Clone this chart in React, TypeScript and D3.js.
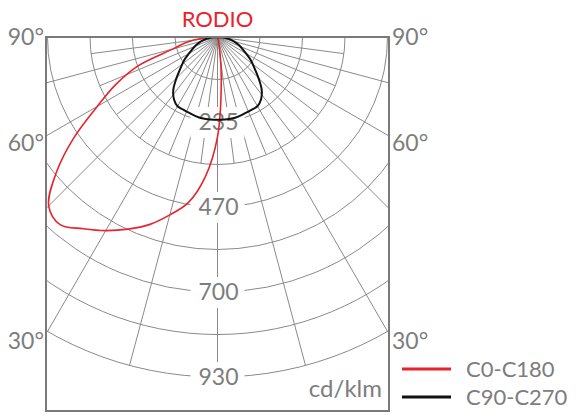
import { useRef, useEffect } from 'react';
import * as d3 from 'd3';

const WIDTH = 577;
const HEIGHT = 420;

// Box and pole of the polar diagram.
const BOX = { left: 46, right: 389, top: 37, bottom: 411 };
const CENTER = { x: 217.5, y: 37 };
const R_MAX = 340;

const GRID_COLOR = '#8a8a8a';
const TEXT_COLOR = '#7d7d7d';
const RED = '#e8232b';
const BLACK = '#111111';
const FONT = 'Lato, "Open Sans", sans-serif';

const TITLE = 'RODIO';
const UNIT = 'cd/klm';

// Intensity rings (cd/klm) and the labelled ones.
const RINGS = [117.5, 235, 352.5, 470, 587.5, 705, 822.5, 940];
const RING_LABELS = ['235', '470', '700', '930'];
const RING_LABEL_VALUES = [235, 470, 705, 940];

// Angle labels on both box sides.
const ANGLE_LABELS = [90, 60, 30];

// Gamma angles, -90 (left) .. 90 (right), 5 degree steps.
const GAMMA = d3.range(-90, 91, 5);

// C0-C180 plane
const C0_C180 = [
  0, 41, 88, 127, 235, 310, 384, 484, 581, 660, 677, 647, 618, 586, 552, 509, 465, 388,
  276, 120, 35, 8, 0, 0, 0, 0, 0, 0, 0, 0, 0, 0, 0, 0, 0, 0, 0,
];

// C90-C270 plane
const C90_C270 = [
  0, 17, 33, 47, 61, 75, 91, 113, 133, 160, 190, 210, 221, 222, 224, 227, 229, 229,
  229, 229, 229, 227, 224, 222, 221, 210, 190, 160, 133, 113, 91, 75, 61, 47, 33, 17, 0,
];

const SERIES = [
  { name: 'C0-C180', values: C0_C180, color: RED, width: 1.6 },
  { name: 'C90-C270', values: C90_C270, color: BLACK, width: 2 },
];

export default function App() {
  const svgRef = useRef<SVGSVGElement>(null);

  useEffect(() => {
    if (!svgRef.current) return;
    const svg = d3.select(svgRef.current);
    svg.selectAll('*').remove();

    const r = d3.scaleLinear().domain([0, 940]).range([0, R_MAX]);
    const toRad = (g: number) => (g * Math.PI) / 180;

    svg.append('defs')
      .append('clipPath')
      .attr('id', 'box-clip')
      .append('rect')
      .attr('x', BOX.left)
      .attr('y', BOX.top)
      .attr('width', BOX.right - BOX.left)
      .attr('height', BOX.bottom - BOX.top);

    const grid = svg.append('g').attr('clip-path', 'url(#box-clip)');
    const g = grid.append('g').attr('transform', `translate(${CENTER.x},${CENTER.y})`);

    // ── Rings ────────────────────────────────────────────────────────────
    g.selectAll('circle.ring')
      .data(RINGS)
      .join('circle')
      .attr('class', 'ring')
      .attr('r', (d) => r(d))
      .attr('fill', 'none')
      .attr('stroke', GRID_COLOR)
      .attr('stroke-width', 1);

    // ── Radial lines every 7.5 degrees; odd ones stop at the third ring ──
    const spokes = d3.range(-90, 90.1, 7.5);
    const spokeLen = (d: number) => (d % 15 === 0 ? R_MAX : r(352.5));
    g.selectAll('line.spoke')
      .data(spokes)
      .join('line')
      .attr('class', 'spoke')
      .attr('x1', 0)
      .attr('y1', 0)
      .attr('x2', (d) => spokeLen(d) * Math.sin(toRad(d)))
      .attr('y2', (d) => spokeLen(d) * Math.cos(toRad(d)))
      .attr('stroke', GRID_COLOR)
      .attr('stroke-width', 1);

    // ── Ring labels on the vertical axis ─────────────────────────────────
    const labels = g.append('g');
    RING_LABEL_VALUES.forEach((v, i) => {
      const y = r(v);
      labels.append('rect')
        .attr('x', -27)
        .attr('y', y - 15)
        .attr('width', 54)
        .attr('height', 31)
        .attr('fill', '#fff');
      labels.append('text')
        .attr('x', 1)
        .attr('y', y + 8)
        .attr('text-anchor', 'middle')
        .attr('fill', TEXT_COLOR)
        .attr('font-size', '23px')
        .attr('font-family', FONT)
        .text(RING_LABELS[i]);
    });

    // ── Curves ───────────────────────────────────────────────────────────
    SERIES.forEach((s) => {
      const pts = GAMMA.map((gm, i) => ({ g: gm, v: s.values[i] }))
        .filter((p, i, arr) => !(p.v === 0 && arr[i - 1] && arr[i - 1].v === 0));
      const line = d3.lineRadial<{ g: number; v: number }>()
        .angle((d) => Math.PI - toRad(d.g))
        .radius((d) => r(d.v))
        .curve(d3.curveCatmullRom.alpha(0.5));
      g.append('path')
        .datum(pts)
        .attr('d', line)
        .attr('fill', 'none')
        .attr('stroke', s.color)
        .attr('stroke-width', s.width)
        .attr('stroke-linejoin', 'round');
    });

    // ── Box ──────────────────────────────────────────────────────────────
    svg.append('rect')
      .attr('x', BOX.left)
      .attr('y', BOX.top)
      .attr('width', BOX.right - BOX.left)
      .attr('height', BOX.bottom - BOX.top)
      .attr('fill', 'none')
      .attr('stroke', '#7a7a7a')
      .attr('stroke-width', 2);

    // ── Angle labels ─────────────────────────────────────────────────────
    ANGLE_LABELS.forEach((a) => {
      // where the gamma line meets the box side, label sits just below it
      const yy = a === 90
        ? CENTER.y
        : CENTER.y + (BOX.right - CENTER.x) / Math.tan(toRad(a)) + 7;
      [
        { x: BOX.left - 2, anchor: 'end' },
        { x: BOX.right + 3, anchor: 'start' },
      ].forEach((p) => {
        svg.append('text')
          .attr('x', p.x)
          .attr('y', yy + 8)
          .attr('text-anchor', p.anchor)
          .attr('fill', TEXT_COLOR)
          .attr('font-size', '23px')
          .attr('font-family', FONT)
          .text(`${a}°`);
      });
    });

    // ── Title and unit ───────────────────────────────────────────────────
    svg.append('text')
      .attr('x', CENTER.x)
      .attr('y', 27)
      .attr('text-anchor', 'middle')
      .attr('fill', RED)
      .attr('font-size', '22px')
      .attr('font-family', FONT)
      .text(TITLE);

    svg.append('text')
      .attr('x', BOX.right - 7)
      .attr('y', 397)
      .attr('text-anchor', 'end')
      .attr('fill', TEXT_COLOR)
      .attr('font-size', '24px')
      .attr('font-family', FONT)
      .text(UNIT);

    // ── Legend ───────────────────────────────────────────────────────────
    const legend = svg.append('g').attr('transform', 'translate(402,369)');
    SERIES.forEach((s, i) => {
      legend.append('line')
        .attr('x1', 0).attr('x2', 49)
        .attr('y1', i * 28).attr('y2', i * 28)
        .attr('stroke', s.color)
        .attr('stroke-width', 3);
      legend.append('text')
        .attr('x', 64)
        .attr('y', i * 28 + 8)
        .attr('fill', TEXT_COLOR)
        .attr('font-size', '22px')
        .attr('font-family', FONT)
        .text(s.name);
    });
  }, []);

  return (
    <svg
      ref={svgRef}
      width={WIDTH}
      height={HEIGHT}
      style={{ position: 'absolute', left: 0, top: 0, background: '#fff' }}
    />
  );
}
